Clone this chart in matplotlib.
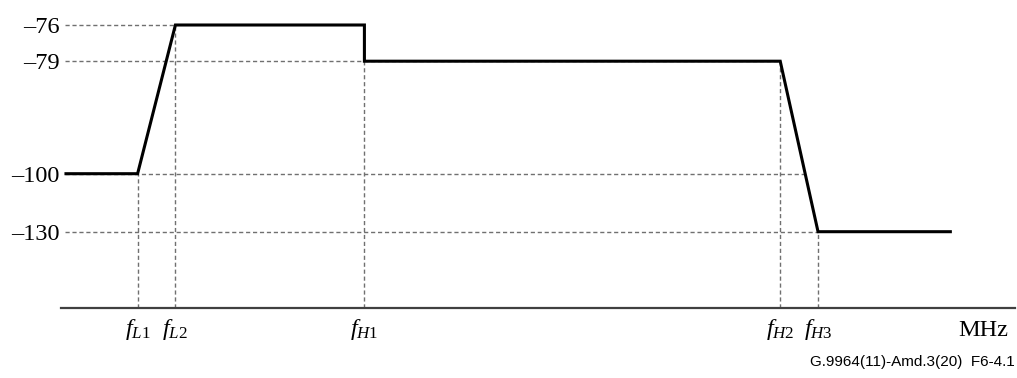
import matplotlib.pyplot as plt
import numpy as np

plt.rcParams['font.family'] = ['Liberation Serif', 'DejaVu Serif']
plt.rcParams['mathtext.fontset'] = 'custom'
plt.rcParams['mathtext.rm'] = 'Liberation Serif'
plt.rcParams['mathtext.it'] = 'Liberation Serif:italic'

# mask corner points (schematic frequency axis, arbitrary units)
freq = [0.0, 7.2, 11.0, 30.0, 30.0, 71.8, 75.6, 88.9]
psd = [-100, -100, -76, -76, -79, -79, -130, -130]

# marked frequencies and their labels
mark_freq = [7.2, 11.0, 30.0, 71.8, 75.6]
mark_psd = [-100, -76, -79, -79, -130]
mark_labels = [r'$f_{L\mathrm{1}}$', r'$f_{L\mathrm{2}}$', r'$f_{H\mathrm{1}}$',
               r'$f_{H\mathrm{2}}$', r'$f_{H\mathrm{3}}$']

# psd levels shown on the vertical axis
levels = [-76, -79, -100, -130]
level_labels = ['\u201376', '\u201379', '\u2013100', '\u2013130']

# schematic (non linear) vertical scale
sv = np.array([-170.0, -130, -100, -79, -76, -60])
sp = np.array([0.0, 76, 134, 246.5, 282.7, 320])
def fwd(v):
    return np.interp(v, sv, sp)
def inv(p):
    return np.interp(p, sp, sv)

fig = plt.figure(figsize=(10.17, 3.78), dpi=100)
ax = fig.add_axes([61/1017, (378-307.7)/378, (1015-61)/1017, 307.7/378])
ax.set_yscale('function', functions=(fwd, inv))
ax.set_ylim(-170, inv(307.7))
ax.set_xlim(-0.5, 95.4)

dash = dict(color='#707070', lw=1.0, ls=(0, (3, 2)), zorder=1)
# horizontal guides to the tick labels
hx_end = [11.0, 71.8, 74.3, 75.6]
for lv, xe in zip(levels, hx_end):
    ax.plot([-0.1, xe], [lv, lv], **dash)
# vertical guides down to the axis
for f, p in zip(mark_freq, mark_psd):
    ax.plot([f, f], [-170, p], **dash)

ax.plot(freq, psd, color='black', lw=2.2, solid_joinstyle='miter', zorder=3)

for s in ['top', 'right', 'left']:
    ax.spines[s].set_visible(False)
ax.spines['bottom'].set_color('#404040')
ax.spines['bottom'].set_linewidth(1.6)

ax.set_yticks(levels)
ax.set_yticklabels(level_labels, fontsize=17.5)
ax.yaxis.set_minor_locator(plt.NullLocator())
ax.tick_params(axis='y', length=0, pad=1)

ax.set_xticks(mark_freq)
ax.set_xticklabels(mark_labels, fontsize=17.5)
ax.tick_params(axis='x', length=0, pad=7)

ax.text(0.967, -0.075, 'MHz', transform=ax.transAxes, fontsize=17.5,
        ha='center', va='center')

fig.text(0.998, 0.042, 'G.9964(11)-Amd.3(20)  F6-4.1', family='Liberation Sans',
         fontsize=11, ha='right', va='center')

fig.savefig('out.png', dpi=100)
